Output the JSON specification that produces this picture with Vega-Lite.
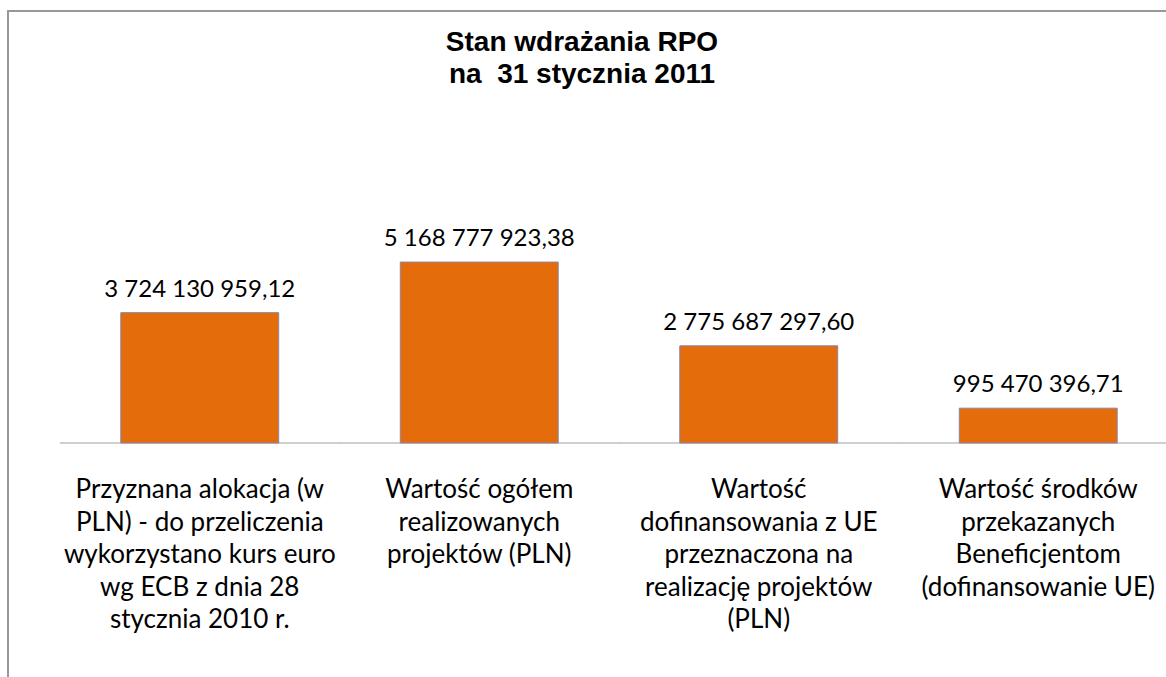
{
  "$schema": "https://vega.github.io/schema/vega-lite/v6.json",
  "autosize": {"type": "none"},
  "width": 1222,
  "height": 700,
  "padding": {"left": 8, "top": 11, "right": -64, "bottom": -34},
  "background": "white",
  "title": {
    "text": ["Stan wdrażania RPO", "na \u00a031 stycznia 2011"],
    "font": "Liberation Sans",
    "fontSize": 28,
    "fontWeight": "bold",
    "color": "#000000",
    "lineHeight": 32,
    "anchor": "middle",
    "frame": "group",
    "dx": -37,
    "offset": -78
  },
  "config": {
    "view": {"stroke": "#989898", "strokeWidth": 2},
    "locale": {"number": {"decimal": ",", "thousands": " ", "grouping": [3], "currency": ["", " zł"]}}
  },
  "data": {
    "values": [
      {"key": "A", "value": 3724130959.12, "label": "Przyznana alokacja (w\nPLN) - do przeliczenia\nwykorzystano kurs euro\nwg ECB z dnia 28\nstycznia 2010 r."},
      {"key": "B", "value": 5168777923.38, "label": "Wartość ogółem\nrealizowanych\nprojektów (PLN)"},
      {"key": "C", "value": 2775687297.60, "label": "Wartość\ndofinansowania z UE\nprzeznaczona na\nrealizację projektów\n(PLN)"},
      {"key": "D", "value": 995470396.71, "label": "Wartość środków\nprzekazanych\nBeneficjentom\n(dofinansowanie UE)"}
    ]
  },
  "encoding": {
    "x": {"field": "key", "type": "nominal", "sort": null, "scale": {"paddingInner": 0, "paddingOuter": 0.18605}, "axis": null}
  },
  "layer": [
    {
      "mark": {"type": "tick", "orient": "horizontal", "size": 280, "thickness": 1.5, "color": "#a6a6a6"},
      "encoding": {
        "y": {"datum": 0, "type": "quantitative", "scale": {"domain": [-7657142857, 12342857143], "nice": false, "zero": false}, "axis": null}
      }
    },
    {
      "mark": {"type": "bar", "color": "#E46C0A", "stroke": "#8A84A8", "strokeWidth": 1, "width": {"band": 0.565}},
      "encoding": {
        "y": {"field": "value", "type": "quantitative", "scale": {"domain": [-7657142857, 12342857143], "nice": false, "zero": false}, "axis": null}
      }
    },
    {
      "mark": {"type": "text", "font": "Lato", "fontSize": 24, "baseline": "alphabetic", "dy": -16, "color": "#000000"},
      "encoding": {
        "y": {"field": "value", "type": "quantitative", "scale": {"domain": [-7657142857, 12342857143], "nice": false, "zero": false}, "axis": null},
        "text": {"field": "value", "type": "quantitative", "format": ",.2f"}
      }
    },
    {
      "mark": {"type": "text", "font": "Lato", "fontSize": 26, "baseline": "top", "lineBreak": "\n", "lineHeight": 32.5, "dy": 34, "color": "#000000"},
      "encoding": {
        "y": {"datum": 0, "type": "quantitative", "scale": {"domain": [-7657142857, 12342857143], "nice": false, "zero": false}, "axis": null},
        "text": {"field": "label", "type": "nominal"}
      }
    }
  ]
}
